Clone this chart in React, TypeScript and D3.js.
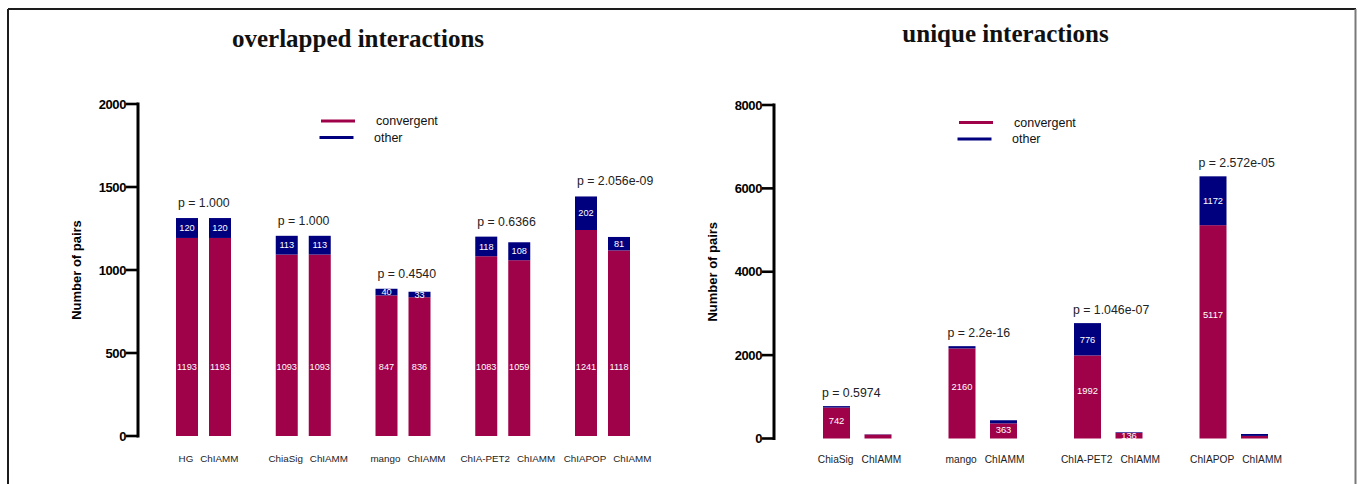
import React from "react";
import * as d3 from "d3";

// ---------- data ----------
const overlapGroups = ["HG", "ChiaSig", "mango", "ChIA-PET2", "ChIAPOP"];
const overlapConvRef = [1193, 1093, 847, 1083, 1241];
const overlapOtherRef = [120, 113, 40, 118, 202];
const overlapConvChiamm = [1193, 1093, 836, 1059, 1118];
const overlapOtherChiamm = [120, 113, 33, 108, 81];
const overlapP = ["p = 1.000", "p = 1.000", "p = 0.4540", "p = 0.6366", "p = 2.056e-09"];
const overlapTicks = [0, 500, 1000, 1500, 2000];

const uniqueGroups = ["ChiaSig", "mango", "ChIA-PET2", "ChIAPOP"];
const uniqueConvRef = [742, 2160, 1992, 5117];
const uniqueOtherRef = [35, 55, 776, 1172];
const uniqueConvChiamm = [95, 363, 136, 62];
const uniqueOtherChiamm = [6, 75, 15, 46];
const uniqueP = ["p = 0.5974", "p = 2.2e-16", "p = 1.046e-07", "p = 2.572e-05"];
const uniqueTicks = [0, 2000, 4000, 6000, 8000];

const secondName = "ChIAMM";
const legendItems = ["convergent", "other"];

const RED = "#a0024a";
const BLUE = "#00007f";
const SANS = "Arial, 'Liberation Sans', Helvetica, sans-serif";
const SERIF = "'Times New Roman', 'Liberation Serif', serif";

type PanelProps = {
  title: string;
  titleX: number;
  titleY: number;
  groups: string[];
  conv1: number[];
  other1: number[];
  conv2: number[];
  other2: number[];
  pLabels: string[];
  ticks: number[];
  yTop: number;
  yBottom: number;
  axisX: number;
  c0: number;
  c1: number;
  barW: number;
  bar1Off: number;
  bar2Off: number;
  pDx: number;
  pOffset: number;
  convLabelMode: "fixed" | "fraction";
  innerFont: number;
  xLabelY: number;
  xLabelShift: number;
  xLabelGap: number;
  xLabelFont: number;
  legendX: number;
  legendY: number;
  yLabelX: number;
};

function Panel(p: PanelProps) {
  const y = d3
    .scaleLinear()
    .domain([0, p.ticks[p.ticks.length - 1]])
    .range([p.yBottom, p.yTop]);
  const x = d3.scalePoint<string>().domain(p.groups).range([p.c0, p.c1]);

  const bars: any[] = [];
  p.groups.forEach((g, i) => {
    const c = x(g)!;
    [
      { conv: p.conv1[i], other: p.other1[i], bx: c + p.bar1Off },
      { conv: p.conv2[i], other: p.other2[i], bx: c + p.bar2Off },
    ].forEach((b, j) => bars.push({ ...b, key: g + j }));
  });

  return (
    <g>
      <text
        x={p.titleX}
        y={p.titleY}
        textAnchor="middle"
        fontFamily={SERIF}
        fontWeight="bold"
        fontSize={25}
        fill="#111"
      >
        {p.title}
      </text>

      {/* legend */}
      {legendItems.map((name, i) => (
        <g key={name}>
          <line
            x1={p.legendX - i * 1.5}
            x2={p.legendX + 34 - i * 1.5}
            y1={p.legendY + i * 16.5}
            y2={p.legendY + i * 16.5}
            stroke={i === 0 ? RED : BLUE}
            strokeWidth={3}
          />
          <text
            x={p.legendX + 55 - i * 2}
            y={p.legendY + i * 16.5}
            dy="0.35em"
            fontFamily={SANS}
            fontSize={12.5}
            fill="#111"
          >
            {name}
          </text>
        </g>
      ))}

      {/* y axis */}
      <line
        x1={p.axisX}
        x2={p.axisX}
        y1={p.yTop - 1.5}
        y2={p.yBottom + 1.5}
        stroke="#000"
        strokeWidth={3}
      />
      {p.ticks.map((t) => (
        <g key={t}>
          <line
            x1={p.axisX - 12}
            x2={p.axisX}
            y1={y(t)}
            y2={y(t)}
            stroke="#000"
            strokeWidth={2.6}
          />
          <text
            x={p.axisX - 12}
            y={y(t)}
            dy="0.36em"
            textAnchor="end"
            fontFamily={SANS}
            fontWeight="bold"
            fontSize={13}
            fill="#000"
            letterSpacing={-0.4}
          >
            {t}
          </text>
        </g>
      ))}
      <text
        transform={`translate(${p.yLabelX},${(p.yTop + p.yBottom) / 2}) rotate(-90)`}
        textAnchor="middle"
        dy="0.35em"
        fontFamily={SANS}
        fontWeight="bold"
        fontSize={13}
        fill="#000"
      >
        Number of pairs
      </text>

      {/* bars */}
      {bars.map((b) => {
        const yConv = y(b.conv);
        const yTot = y(b.conv + b.other);
        const convH = p.yBottom - yConv;
        const otherH = yConv - yTot;
        const convLabelY =
          p.convLabelMode === "fixed" ? y(415) : p.yBottom - 0.58 * convH;
        return (
          <g key={b.key}>
            <rect x={b.bx} y={yConv} width={p.barW} height={convH} fill={RED} />
            <rect x={b.bx} y={yTot} width={p.barW} height={otherH} fill={BLUE} />
            {convH >= 5 && (
              <text
                x={b.bx + p.barW / 2}
                y={convLabelY}
                dy="0.35em"
                textAnchor="middle"
                fontFamily={SANS}
                fontSize={p.innerFont}
                fill="#fff"
              >
                {b.conv}
              </text>
            )}
            {otherH >= 5 && (
              <text
                x={b.bx + p.barW / 2}
                y={(yConv + yTot) / 2}
                dy="0.35em"
                textAnchor="middle"
                fontFamily={SANS}
                fontSize={p.innerFont}
                fill="#fff"
              >
                {b.other}
              </text>
            )}
          </g>
        );
      })}

      {/* p values */}
      {p.groups.map((g, i) => {
        const c = x(g)!;
        const top = Math.max(p.conv1[i] + p.other1[i], p.conv2[i] + p.other2[i]);
        return (
          <text
            key={g}
            x={c + p.bar1Off + p.pDx}
            y={y(top) - p.pOffset}
            fontFamily={SANS}
            fontSize={12.3}
            fill="#222"
          >
            {p.pLabels[i]}
          </text>
        );
      })}

      {/* x labels */}
      {p.groups.map((g) => (
        <text
          key={g}
          x={x(g)! + p.xLabelShift}
          y={p.xLabelY}
          textAnchor="middle"
          fontFamily={SANS}
          fontSize={p.xLabelFont}
          fill="#222"
        >
          <tspan>{g}</tspan>
          <tspan dx={p.xLabelGap}>{secondName}</tspan>
        </text>
      ))}
    </g>
  );
}

export default function App() {
  return (
    <svg
      width={1358}
      height={484}
      style={{ position: "absolute", left: 0, top: 0, display: "block", background: "#fff" }}
    >
      <rect x={0} y={0} width={1358} height={484} fill="#fff" />
      {/* frame */}
      <line x1={8} x2={1356} y1={9} y2={9} stroke="#1c1c1c" strokeWidth={2} />
      <line x1={8} x2={8} y1={9} y2={484} stroke="#1c1c1c" strokeWidth={2} />
      <line x1={1355.5} x2={1355.5} y1={9} y2={484} stroke="#7a7a7a" strokeWidth={2} />

      <Panel
        title="overlapped interactions"
        titleX={358}
        titleY={47}
        groups={overlapGroups}
        conv1={overlapConvRef}
        other1={overlapOtherRef}
        conv2={overlapConvChiamm}
        other2={overlapOtherChiamm}
        pLabels={overlapP}
        ticks={overlapTicks}
        yTop={104}
        yBottom={436}
        axisX={138}
        c0={203.5}
        c1={602.5}
        barW={22}
        bar1Off={-27.5}
        bar2Off={5.5}
        pDx={2}
        pOffset={11}
        convLabelMode="fixed"
        innerFont={9.2}
        xLabelY={462}
        xLabelShift={5}
        xLabelGap={7}
        xLabelFont={9.8}
        legendX={321}
        legendY={121}
        yLabelX={76.5}
      />
      <Panel
        title="unique interactions"
        titleX={1005.5}
        titleY={42}
        groups={uniqueGroups}
        conv1={uniqueConvRef}
        other1={uniqueOtherRef}
        conv2={uniqueConvChiamm}
        other2={uniqueOtherChiamm}
        pLabels={uniqueP}
        ticks={uniqueTicks}
        yTop={105}
        yBottom={438.5}
        axisX={774}
        c0={857.5}
        c1={1234}
        barW={27}
        bar1Off={-34.5}
        bar2Off={7}
        pDx={-1}
        pOffset={9}
        convLabelMode="fraction"
        innerFont={9.4}
        xLabelY={463}
        xLabelShift={2}
        xLabelGap={8}
        xLabelFont={10.2}
        legendX={959}
        legendY={122.5}
        yLabelX={712}
      />
    </svg>
  );
}
